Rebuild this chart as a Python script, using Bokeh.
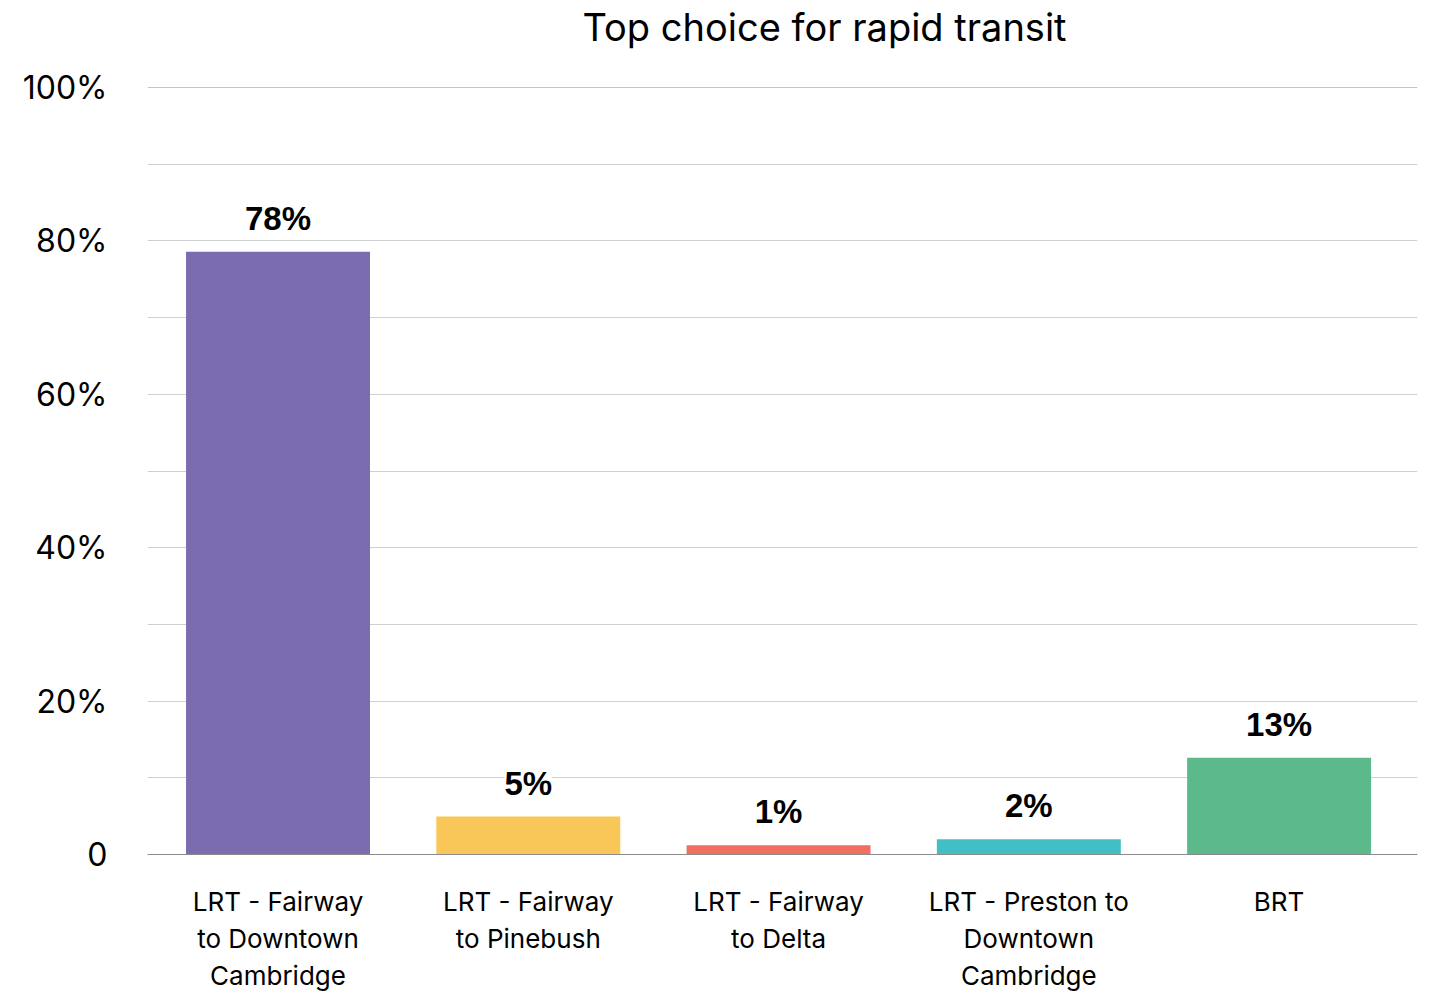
import numpy as np
from bokeh.plotting import figure
from bokeh.models import Range1d, FixedTicker, Span, LabelSet, ColumnDataSource, Title
from bokeh.core.properties import value
from bokeh.embed import file_html
from bokeh.resources import INLINE

title_text = "Top choice for rapid transit"
categories = [
    "LRT - Fairway\nto Downtown\nCambridge",
    "LRT - Fairway\nto Pinebush",
    "LRT - Fairway\nto Delta",
    "LRT - Preston to\nDowntown\nCambridge",
    "BRT",
]
values = [78.6, 4.95, 1.2, 2.0, 12.6]
value_labels = ["78%", "5%", "1%", "2%", "13%"]
colors = ["#7B6CB0", "#F9C757", "#F26E60", "#40C0C6", "#5CB98C"]
y_ticks = [0, 10, 20, 30, 40, 50, 60, 70, 80, 90, 100]
y_tick_labels = ["0", "", "20%", "", "40%", "", "60%", "", "80%", "", "100%"]

x_pos = (np.arange(len(categories)) + 0.5).tolist()
src = ColumnDataSource(dict(x=x_pos, top=values, label=value_labels, color=colors))

x_start, x_end = -0.0215, 5.053
p = figure(width=1429, height=993, x_range=Range1d(x_start, x_end), y_range=Range1d(0, 100),
           output_backend="svg", toolbar_location=None,
           min_border_left=147, min_border_right=12, min_border_top=87, min_border_bottom=139)
p.outline_line_color = None
p.background_fill_color = "white"

# spacer between the title and the plot area
spacer = Title(text=" ", text_font_size="10px", standoff=25)
p.add_layout(spacer, "above")

p.title.text = title_text
p.title.align = "left"
p.title.offset = 435
p.title.standoff = 0
p.title.text_font = "Inter"
p.title.text_font_style = "normal"
p.title.text_font_size = "38px"
p.title.text_color = "black"

p.vbar(x="x", top="top", width=0.735, fill_color="color", line_color=None, source=src)

# y axis
p.yaxis.ticker = FixedTicker(ticks=y_ticks)
p.yaxis.major_label_overrides = {t: l for t, l in zip(y_ticks, y_tick_labels)}
p.yaxis.axis_line_color = None
p.yaxis.major_tick_line_color = None
p.yaxis.major_tick_out = 0
p.yaxis.minor_tick_line_color = None
p.yaxis.major_label_standoff = 40
p.yaxis.major_label_text_font = "Inter"
p.yaxis.major_label_text_font_size = "32px"
p.yaxis.major_label_text_color = "black"
p.ygrid.ticker = FixedTicker(ticks=y_ticks)
p.ygrid.grid_line_color = "#d0d0d0"
p.ygrid.grid_line_width = 1
p.xgrid.visible = False

# x axis with multi-line category labels
p.xaxis.ticker = FixedTicker(ticks=x_pos)
p.xaxis.major_label_overrides = {x: c for x, c in zip(x_pos, categories)}
p.xaxis.axis_line_color = "#8c8c8c"
p.xaxis.major_tick_line_color = None
p.xaxis.major_tick_out = 0
p.xaxis.minor_tick_line_color = None
p.xaxis.major_label_standoff = 31
p.xaxis.major_label_text_font = "Inter"
p.xaxis.major_label_text_font_size = "26px"
p.xaxis.major_label_text_color = "black"

p.add_layout(Span(location=100, dimension="width", line_color="#8c8c8c", line_width=1))

labels = LabelSet(x="x", y="top", text="label", source=src, text_align="center",
                  text_baseline="alphabetic", y_offset=22,
                  text_font=value("Liberation Sans"),
                  text_font_style=value("bold"), text_font_size=value("33px"),
                  text_color="black", background_fill_color="white")
p.add_layout(labels)

open("out.html", "w").write(file_html(p, INLINE))
